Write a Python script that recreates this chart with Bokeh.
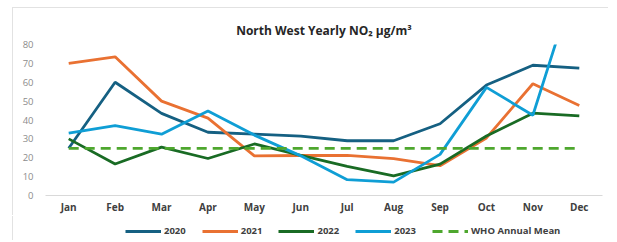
from bokeh.plotting import figure
from bokeh.layouts import column
from bokeh.models import Range1d, FactorRange, Legend, LegendItem, FixedTicker
from bokeh.embed import file_html
from bokeh.resources import INLINE

months = ["Jan", "Feb", "Mar", "Apr", "May", "Jun", "Jul", "Aug", "Sep", "Oct", "Nov", "Dec"]
y2020 = [25, 60, 43.5, 33.5, 32.5, 31.5, 29, 29, 38, 58.5, 69, 67.5]
y2021 = [70, 73.5, 50, 41, 21, 21.2, 21.3, 19.5, 15.8, 30.5, 59.2, 47.7]
y2022 = [30, 16.7, 25.6, 19.6, 27.3, 21.3, 15.4, 10.4, 16.6, 31.5, 43.6, 42.2]
y2023 = [33, 37, 32.5, 44.8, 32, 21, 8.4, 7.1, 21.8, 57.3, 42.5, 120]
who = [25, 25, 25, 25, 25, 25, 25, 25, 25, 25, 25, 25]
series_names = ["2020", "2021", "2022", "2023"]
colors = ["#156082", "#E97132", "#196B24", "#0F9ED5"]
who_color = "#4EA72E"
yticks = [0, 10, 20, 30, 40, 50, 60, 70, 80]

FONT = "Open Sans"

p = figure(x_range=FactorRange(*months, range_padding=0), y_range=Range1d(0, 80),
           frame_width=557, frame_height=151, output_backend="svg", toolbar_location=None,
           min_border_left=32, min_border_right=7, min_border_top=36, min_border_bottom=10,
           title="North West Yearly NO\u2082 \u00b5g/m\u00b3")
p.margin = (8, 0, 0, 13)
p.styles = {"box-shadow": "-1px -1px 0 #e2e2e2"}
p.outline_line_color = None
p.background_fill_color = "white"
p.border_fill_color = "white"
p.xgrid.grid_line_color = None
p.ygrid.grid_line_color = None

p.title.align = "center"
p.title.vertical_align = "middle"
p.title.offset = 15
p.title.text_font = FONT
p.title.text_font_size = "12px"
p.title.text_font_style = "bold"
p.title.text_color = "#262626"

p.yaxis.ticker = FixedTicker(ticks=yticks)
p.yaxis.axis_line_color = None
p.yaxis.major_tick_line_color = None
p.yaxis.minor_tick_line_color = None
p.yaxis.major_tick_out = 0
p.yaxis.major_tick_in = 0
p.yaxis.major_label_text_font = FONT
p.yaxis.major_label_text_font_size = "9.5px"
p.yaxis.major_label_text_color = "#8c8c8c"
p.yaxis.major_label_standoff = 12

p.xaxis.axis_line_color = "#d9d9d9"
p.xaxis.axis_line_width = 1
p.xaxis.major_tick_line_color = None
p.xaxis.minor_tick_line_color = None
p.xaxis.major_tick_out = 0
p.xaxis.major_tick_in = 0
p.xaxis.major_label_text_font = FONT
p.xaxis.major_label_text_font_size = "10px"
p.xaxis.major_label_text_font_style = "bold"
p.xaxis.major_label_text_color = "#404040"
p.xaxis.major_label_standoff = 4

all_series = [y2020, y2021, y2022, y2023]
for ys, c in zip(all_series, colors):
    p.line(months, ys, line_color=c, line_width=2.8)
p.line(months, who, line_color=who_color, line_width=2.8, line_dash="10 6")

# legend strip below the chart (same series, drawn outside its visible range)
p2 = figure(x_range=FactorRange(*months, range_padding=0), y_range=Range1d(1000, 1001),
            width=596, height=24, output_backend="svg", toolbar_location=None,
            x_axis_type=None, y_axis_type=None, min_border=0)
p2.margin = (0, 0, 0, 13)
p2.styles = {"box-shadow": "-1px 0 0 #e2e2e2"}
p2.outline_line_color = None
p2.background_fill_color = "white"
p2.border_fill_color = "white"

items = []
for name, ys, c in zip(series_names, all_series, colors):
    r = p2.line(months, ys, line_color=c, line_width=2.8)
    items.append(LegendItem(label=name, renderers=[r]))
rw = p2.line(months, who, line_color=who_color, line_width=2.8, line_dash="10 6")
items.append(LegendItem(label="WHO Annual Mean", renderers=[rw]))

legend = Legend(items=items, orientation="horizontal", location=(80, 3),
                glyph_width=36, glyph_height=12, label_standoff=3, spacing=16,
                padding=0, margin=0, border_line_color=None, background_fill_alpha=0,
                label_text_font=FONT, label_text_font_size="9.5px",
                label_text_font_style="bold", label_text_color="#404040",
                label_height=12)
p2.add_layout(legend, "center")

layout = column(p, p2, spacing=0)
open("out.html", "w").write(file_html(layout, INLINE))
